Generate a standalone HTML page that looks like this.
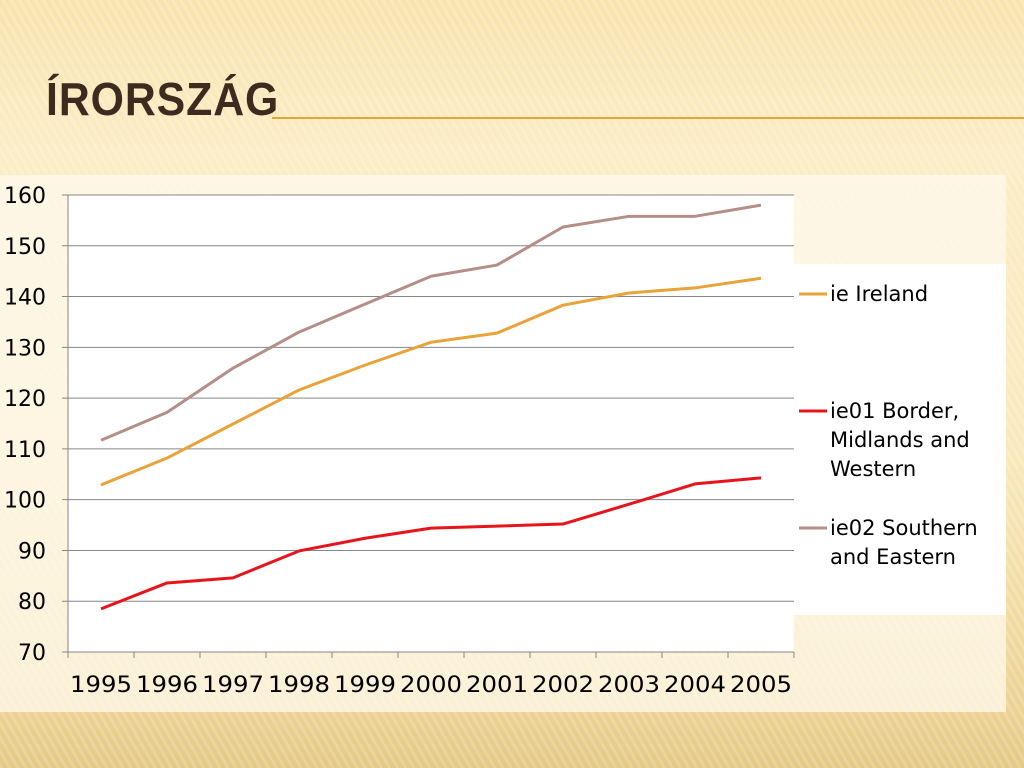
<!DOCTYPE html>
<html><head><meta charset="utf-8"><style>
body{margin:0;width:1024px;height:768px;overflow:hidden;font-family:"Liberation Sans",sans-serif;}
#bg{position:absolute;left:0;top:0;width:1024px;height:768px;
background:repeating-linear-gradient(60deg,rgba(255,255,255,0.18) 0 3px,rgba(0,0,0,0.0) 3px 7px),linear-gradient(180deg,#f8e3ad 0%,#fbedc6 20%,#f9e8bb 60%,#ecd394 92%,#e3c985 100%);}
#title{position:absolute;left:46px;top:72px;font-size:46px;font-weight:bold;color:#3d2b1f;letter-spacing:1px;transform:scaleX(0.93);transform-origin:left;font-family:"Liberation Sans Narrow","Liberation Sans",sans-serif;}
#rule{position:absolute;left:272px;top:117px;width:752px;height:2px;background:#e3a43e;}
#chartbg{position:absolute;left:0;top:175px;width:1006px;height:537px;background:rgba(255,250,236,0.75);}
</style></head><body>
<div id="bg"></div>
<div id="title">ÍRORSZÁG</div>
<div id="rule"></div>
<div id="chartbg"></div>
<svg id="chart" width="1024" height="768" style="position:absolute;left:0;top:0"></svg>
<script>
const years=["1995","1996","1997","1998","1999","2000","2001","2002","2003","2004","2005"];
const ireland=[102.9,108.2,114.9,121.6,126.5,131,132.8,138.3,140.7,141.7,143.6];
const border=[78.5,83.6,84.6,89.9,92.4,94.4,94.8,95.2,99.1,103.1,104.3];
const southern=[111.7,117.2,125.9,133,138.5,144,146.2,153.7,155.8,155.8,158];
const yTicks=[70,80,90,100,110,120,130,140,150,160];
const seriesNames=["ie Ireland","ie01 Border,|Midlands and|Western","ie02 Southern|and Eastern"];
const NS="http://www.w3.org/2000/svg";
const svg=document.getElementById('chart');
const L=68,R=794,T=195,B=652,ymin=70,ymax=160;
const y=v=>B-(v-ymin)/(ymax-ymin)*(B-T);
const bw=(R-L)/years.length;
const x=i=>L+bw*(i+0.5);
function mk(t,a){const e=document.createElementNS(NS,t);for(const k in a)e.setAttribute(k,a[k]);svg.appendChild(e);return e;}
let e=mk('rect',{x:L,y:T,width:R-L,height:B-T,fill:'#fff'});


e=mk('rect',{x:794,y:264,width:212,height:351,fill:'#fff'});


yTicks.forEach(v=>{
 const g=mk('line',{x1:L-6,x2:R,y1:y(v),y2:y(v),stroke:'#868686','stroke-width':1});
 
 
 const t=mk('text',{x:46,y:y(v)+8,'font-size':22,'text-anchor':'end',fill:'#000','font-family':'DejaVu Sans, sans-serif'});
 t.textContent=v;
 
 
});
e=mk('line',{x1:L,x2:L,y1:T,y2:B+6,stroke:'#868686'});


for(let i=0;i<=years.length;i++){
 const tk=mk('line',{x1:L+bw*i,x2:L+bw*i,y1:B,y2:B+6,stroke:'#868686'});
 
 
}
years.forEach((yr,i)=>{
 const t=mk('text',{x:x(i),y:692,'font-size':22,'text-anchor':'middle',fill:'#000','font-family':'DejaVu Sans, sans-serif','textLength':62,'lengthAdjust':'spacingAndGlyphs'});
 t.textContent=yr;
 
 
});
const series=[[ireland,'#e8a33a','ireland'],[border,'#e8141c','border-midlands-western'],[southern,'#b48e87','southern-eastern']];
series.forEach(([d,c,n])=>{
 const p=mk('polyline',{points:d.map((v,i)=>x(i)+','+y(v)).join(' '),fill:'none',stroke:c,'stroke-width':3,'stroke-linejoin':'round'});
 
 
});
const legY=[294,411,528];
series.forEach(([d,c,n],k)=>{
 const l=mk('line',{x1:799,x2:827,y1:legY[k],y2:legY[k],stroke:c,'stroke-width':3});
 
 
 seriesNames[k].split('|').forEach((s,j)=>{
  const t=mk('text',{x:830,y:legY[k]+7+j*29,'font-size':21,fill:'#000','font-family':'DejaVu Sans, sans-serif'});
  t.textContent=s;
  
  
 });
});
</script>
</body></html>
